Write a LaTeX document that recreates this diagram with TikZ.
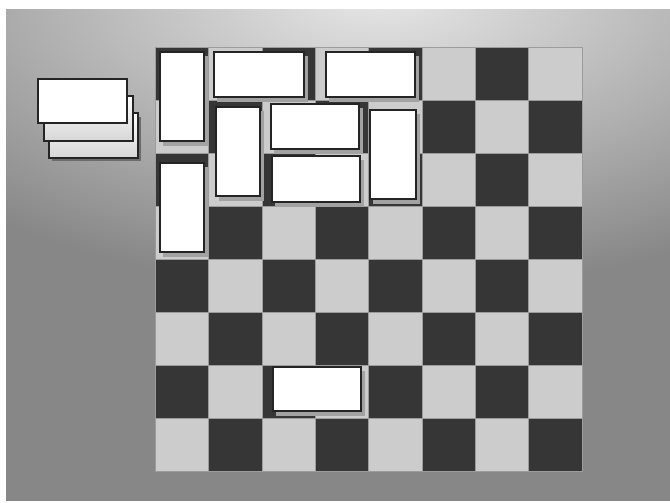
\documentclass[tikz,border=0pt]{standalone}
\usepackage{xcolor}
\usepackage{tikz}
\definecolor{bgdark}{HTML}{878787}
\definecolor{bglight}{HTML}{E8E8E8}
\definecolor{sqdark}{HTML}{363636}
\definecolor{sqlight}{HTML}{CCCCCC}
\definecolor{sqline}{HTML}{9C9C9C}
\definecolor{pedge}{HTML}{242424}
\definecolor{pshadow}{HTML}{A2A2A2}
\tikzset{
  % board squares and dominoes, all in pixel units
  sq/.style     = {draw=sqline, line width=0.25pt},
  piece/.style  = {fill=white, draw=pedge, line width=1.1pt},
  spare/.style  = {top color=white, bottom color=sqlight!80, draw=pedge, line width=1.1pt},
  shadow/.style = {fill=pshadow},
}

\begin{document}
\begin{tikzpicture}[x=0.5pt,y=-0.5pt]
\useasboundingbox (0,0) rectangle (670,503);
\fill[white] (0,0) rectangle (670,503);
% table
\begin{scope}
  \clip (6,9) rectangle (670,501);
  \fill[bgdark] (6,9) rectangle (670,501);
  \shade[inner color=bglight, outer color=bgdark] (380,-10) ellipse [x radius=600, y radius=300];
\end{scope}
% board
\foreach \r in {0,...,7}
  \foreach \c in {0,...,7} {
    \pgfmathtruncatemacro\s{\r+\c}
    \ifodd\s \def\sqcol{sqlight}\else \def\sqcol{sqdark}\fi
    \filldraw[sq, fill=\sqcol] ({155+53.375*\c},{47+53*\r}) rectangle +(53.375,53);
  }
\draw[sqline, line width=0.4pt] (155,47) rectangle (582,471);
% dominoes on the board
\foreach \xa/\ya/\xb/\yb in {160/52/204/141, 214/52/304/97, 326/52/415/97,
                             160/163/204/252, 216/107/260/196, 271/104/359/149,
                             272/156/360/202, 370/110/416/199, 273/367/361/411}
  \fill[shadow] (\xa+3,\ya+4) rectangle (\xb+4,\yb+5);
\foreach \xa/\ya/\xb/\yb in {160/52/204/141, 214/52/304/97, 326/52/415/97,
                             160/163/204/252, 216/107/260/196, 271/104/359/149,
                             272/156/360/202, 370/110/416/199, 273/367/361/411}
  \draw[piece] (\xa,\ya) rectangle (\xb,\yb);
% spare pile
\fill[bgdark!80!black] (52,117) rectangle (141,161);
\draw[spare] (49,113) rectangle (138,158);
\draw[spare] (44,96) rectangle (133,141);
\draw[piece] (38,79) rectangle (127,123);
\end{tikzpicture}
\end{document}
